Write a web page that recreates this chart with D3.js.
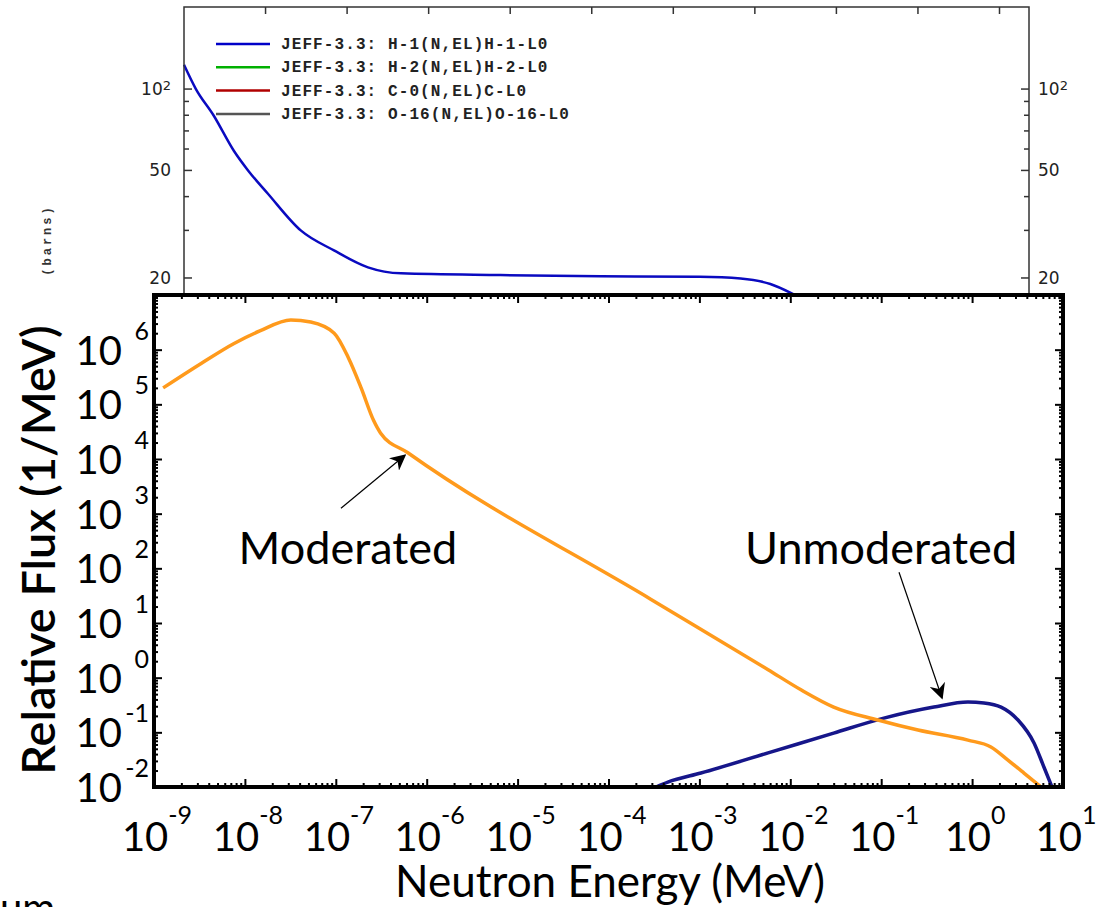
<!DOCTYPE html>
<html>
<head>
<meta charset="utf-8">
<script src="https://cdn.jsdelivr.net/npm/d3@7"></script>
<style>
body { margin: 0; background: #fff; }
svg { display: block; }
</style>
</head>
<body>
<svg id="chart" width="1096" height="907"></svg>
<script>
// ---- data: background cross-section plot (energy in eV, barns) ----
var xsEnergy = [1e-5, 1.4e-5, 2.3e-5, 4.1e-5, 6.1e-5, 1.07e-4, 2.7e-4, 6.9e-4, 1.8e-3, 4.6e-3, 0.076, 1.29, 21, 67, 155, 275, 400];
var xsH1 = [123, 100, 80, 59, 50, 41, 30, 25.3, 21.9, 20.8, 20.5, 20.3, 20.2, 19.9, 19.0, 17.6, 16.5];
var legendLabels = ["JEFF-3.3: H-1(N,EL)H-1-L0", "JEFF-3.3: H-2(N,EL)H-2-L0", "JEFF-3.3: C-0(N,EL)C-L0", "JEFF-3.3: O-16(N,EL)O-16-L0"];
var legendColors = ["#0000c8", "#00b000", "#b00000", "#555555"];
var xsTicks = [20, 50, 100];
var xsTickLabels = ["20", "50", "10"];
var xsTickExps = ["", "", "2"];
var xsMinorTicks = [30, 40, 60, 70, 80, 90];

// ---- data: flux spectra (energy in MeV, 1/MeV) ----
var modEnergy = [1.26e-9, 3.3e-9, 7.6e-9, 1.46e-8, 3.2e-8, 5.3e-8, 9.6e-8, 1.37e-7, 1.9e-7, 2.6e-7, 3.1e-7, 6.2e-7, 2.94e-4, 5.7e-3, 1.31e-2, 3.0e-2, 9.2e-2, 0.254, 0.90, 1.61, 2.48, 3.72, 5.73];
var modFlux = [2.0e5, 5.6e5, 1.3e6, 2.2e6, 3.5e6, 3.2e6, 2.0e6, 7.2e5, 2.0e5, 5.1e4, 3.0e4, 1.3e4, 27, 1.4, 0.6, 0.29, 0.168, 0.110, 0.072, 0.054, 0.031, 0.018, 0.010];
var unmodEnergy = [3.33e-4, 4.5e-4, 1.04e-3, 5.7e-3, 3.0e-2, 0.107, 0.38, 0.90, 1.35, 2.08, 3.2, 4.8, 6.18, 7.57];
var unmodFlux = [0.010, 0.0123, 0.018, 0.042, 0.097, 0.182, 0.29, 0.358, 0.344, 0.29, 0.168, 0.064, 0.023, 0.010];

var energyTicks = [1e-9, 1e-8, 1e-7, 1e-6, 1e-5, 1e-4, 1e-3, 1e-2, 1e-1, 1e0, 1e1];
var energyTickLabels = ["-9", "-8", "-7", "-6", "-5", "-4", "-3", "-2", "-1", "0", "1"];
var fluxTicks = [1e-2, 1e-1, 1e0, 1e1, 1e2, 1e3, 1e4, 1e5, 1e6];
var fluxTickLabels = ["-2", "-1", "0", "1", "2", "3", "4", "5", "6"];

// annotations: [tail energy, tail flux, tip energy, tip flux], label at [energy, flux]
var annotNames = ["Moderated", "Unmoderated"];
var annotArrows = [[1.14e-7, 1.26e3, 5.77e-7, 1.17e4], [0.157, 85, 0.467, 0.424]];
var annotLabels = [[1.36e-7, 234], [0.0996, 234]];

var svg = d3.select("#chart");
var W = +svg.attr("width"), H = +svg.attr("height");

// ================= background plot =================
var xsX = d3.scaleLog().domain([1e-5, 2.3e5]).range([184, 1029]);
var xsY = d3.scaleLog().domain([17.3, 200]).range([295, 7.7]);
var topG = svg.append("g");

topG.append("path")
  .datum(d3.zip(xsEnergy, xsH1))
  .attr("fill", "none")
  .attr("stroke", "#0a0ac0")
  .attr("stroke-width", 2.5)
  .attr("d", d3.line().x(function(d) { return xsX(d[0]); }).y(function(d) { return xsY(d[1]); }).curve(d3.curveMonotoneX));

// frame
topG.append("rect")
  .attr("x", 184).attr("y", 7)
  .attr("width", 1029 - 184).attr("height", 320)
  .attr("fill", "none").attr("stroke", "#333").attr("stroke-width", 1.5);

// top decade ticks
var xsDecades = d3.range(-4, 6).map(function(p) { return Math.pow(10, p); });
topG.append("g").selectAll("line").data(xsDecades).enter().append("line")
  .attr("x1", function(d) { return xsX(d); }).attr("x2", function(d) { return xsX(d); })
  .attr("y1", 7).attr("y2", 14)
  .attr("stroke", "#333").attr("stroke-width", 1.5);

// left and right ticks, inward
[184, 1029].forEach(function(ax) {
  var dir = ax < 500 ? 1 : -1;
  topG.append("g").selectAll("line").data(xsTicks).enter().append("line")
    .attr("x1", ax).attr("x2", ax + dir * 8)
    .attr("y1", function(d) { return xsY(d); }).attr("y2", function(d) { return xsY(d); })
    .attr("stroke", "#333").attr("stroke-width", 1.5);
  topG.append("g").selectAll("line").data(xsMinorTicks).enter().append("line")
    .attr("x1", ax).attr("x2", ax + dir * 5)
    .attr("y1", function(d) { return xsY(d); }).attr("y2", function(d) { return xsY(d); })
    .attr("stroke", "#333").attr("stroke-width", 1.5);
});

// tick labels, both sides
[[171, "end"], [1038, "start"]].forEach(function(p) {
  var t = topG.append("g").selectAll("text").data(xsTicks).enter().append("text")
    .attr("x", p[0])
    .attr("y", function(d) { return xsY(d) + 6; })
    .attr("text-anchor", p[1])
    .style("font-family", "DejaVu Sans")
    .style("font-size", "17px")
    .style("fill", "#222");
  t.append("tspan").text(function(d, i) { return xsTickLabels[i]; });
  t.append("tspan").attr("dy", -5).style("font-size", "13px")
    .text(function(d, i) { return xsTickExps[i]; });
});

topG.append("text")
  .attr("transform", "translate(51,240) rotate(-90)")
  .attr("text-anchor", "middle")
  .style("font-family", "Liberation Mono")
  .style("font-size", "12px")
  .style("font-weight", "bold")
  .style("letter-spacing", "3px")
  .style("fill", "#333")
  .text("(barns)");

// legend
var leg = topG.append("g").selectAll("g").data(legendLabels).enter().append("g")
  .attr("transform", function(d, i) { return "translate(216," + (44 + i * 23.3) + ")"; });
leg.append("line")
  .attr("x1", 0).attr("x2", 54).attr("y1", 0).attr("y2", 0)
  .attr("stroke", function(d, i) { return legendColors[i]; })
  .attr("stroke-width", 2.5);
leg.append("text")
  .attr("x", 65).attr("y", 5)
  .style("font-family", "Liberation Mono")
  .style("font-size", "16px")
  .style("font-weight", "bold")
  .style("letter-spacing", "1.1px")
  .style("fill", "#222")
  .text(function(d) { return d; });

// ================= flux plot =================
svg.append("rect").attr("x", 0).attr("y", 293).attr("width", W).attr("height", H - 293).attr("fill", "#fff");

var x = d3.scaleLog().domain([1e-9, 1e1]).range([154, 1063]);
var y = d3.scaleLog().domain([1e-2, 1e7]).range([787, 295]);
var font = "Lato, 'Open Sans', sans-serif";

var line = d3.line()
  .x(function(d) { return x(d[0]); })
  .y(function(d) { return y(d[1]); })
  .curve(d3.curveMonotoneX);

svg.append("path")
  .datum(d3.zip(unmodEnergy, unmodFlux))
  .attr("fill", "none").attr("stroke", "#16168a").attr("stroke-width", 3.5)
  .attr("d", line);
svg.append("path")
  .datum(d3.zip(modEnergy, modFlux))
  .attr("fill", "none").attr("stroke", "#ff9a1c").attr("stroke-width", 3.5)
  .attr("d", line);

// minor tick values
var xMinor = [], yMinor = [];
energyTicks.slice(0, -1).forEach(function(t) { for (var k = 2; k < 10; k++) xMinor.push(t * k); });
fluxTicks.forEach(function(t) { for (var k = 2; k < 10; k++) yMinor.push(t * k); });
var yMajor = fluxTicks.concat([1e7]);

function ticks(axisFn, scale, values, size, tr) {
  var g = svg.append("g").attr("transform", tr)
    .call(axisFn(scale).tickValues(values).tickSize(size).tickFormat(""));
  g.select(".domain").remove();
  g.selectAll(".tick line").attr("stroke", "#000").attr("stroke-width", 2);
}
ticks(d3.axisBottom, x, energyTicks, -8, "translate(0,787)");
ticks(d3.axisBottom, x, xMinor, -4, "translate(0,787)");
ticks(d3.axisTop, x, energyTicks, -8, "translate(0,295)");
ticks(d3.axisTop, x, xMinor, -4, "translate(0,295)");
ticks(d3.axisLeft, y, yMajor, -8, "translate(154,0)");
ticks(d3.axisLeft, y, yMinor, -4, "translate(154,0)");
ticks(d3.axisRight, y, yMajor, -8, "translate(1063,0)");
ticks(d3.axisRight, y, yMinor, -4, "translate(1063,0)");

svg.append("rect")
  .attr("x", 154).attr("y", 295)
  .attr("width", 1063 - 154).attr("height", 787 - 295)
  .attr("fill", "none").attr("stroke", "#000").attr("stroke-width", 4);

// x tick labels
var xl = svg.append("g").selectAll("text").data(energyTicks).enter().append("text")
  .attr("x", function(d) { return x(d) + 3; })
  .attr("y", 851)
  .attr("text-anchor", "middle")
  .style("font-family", font)
  .style("font-size", "40px")
  .style("fill", "#000");
xl.append("tspan").text("10");
xl.append("tspan").attr("dy", -27).style("font-size", "25px")
  .text(function(d, i) { return energyTickLabels[i]; });

// y tick labels
svg.append("g").selectAll("text").data(fluxTicks).enter().append("text")
  .attr("x", 122)
  .attr("y", function(d) { return y(d) + 15; })
  .attr("text-anchor", "end")
  .style("font-family", font).style("font-size", "40px").style("fill", "#000")
  .text("10");
svg.append("g").selectAll("text").data(fluxTicks).enter().append("text")
  .attr("x", 149)
  .attr("y", function(d) { return y(d) - 10; })
  .attr("text-anchor", "end")
  .style("font-family", font).style("font-size", "25px").style("fill", "#000")
  .text(function(d, i) { return fluxTickLabels[i]; });

// axis titles
svg.append("text")
  .attr("transform", "translate(55,550) rotate(-90)")
  .attr("text-anchor", "middle")
  .style("font-family", font).style("font-size", "47px").style("font-weight", "600")
  .text("Relative Flux (1/MeV)");
svg.append("text")
  .attr("x", 610).attr("y", 897)
  .attr("text-anchor", "middle")
  .style("font-family", font).style("font-size", "44px")
  .text("Neutron Energy (MeV)");
svg.append("text")
  .attr("x", 0).attr("y", 922)
  .style("font-family", font).style("font-size", "40px")
  .text("um");

// annotations
svg.append("defs").append("marker")
  .attr("id", "arrow").attr("viewBox", "0 0 10 10")
  .attr("refX", 9).attr("refY", 5)
  .attr("markerWidth", 16).attr("markerHeight", 16)
  .attr("markerUnits", "userSpaceOnUse")
  .attr("orient", "auto")
  .append("path").attr("d", "M0,0 L10,5 L0,10 L3,5 Z").attr("fill", "#000");

svg.append("g").selectAll("line").data(annotArrows).enter().append("line")
  .attr("x1", function(d) { return x(d[0]); }).attr("y1", function(d) { return y(d[1]); })
  .attr("x2", function(d) { return x(d[2]); }).attr("y2", function(d) { return y(d[3]); })
  .attr("stroke", "#000").attr("stroke-width", 1.2)
  .attr("marker-end", "url(#arrow)");

svg.append("g").selectAll("text").data(annotLabels).enter().append("text")
  .attr("x", function(d) { return x(d[0]); })
  .attr("y", function(d) { return y(d[1]) + 16; })
  .attr("text-anchor", "middle")
  .style("font-family", font).style("font-size", "45px")
  .text(function(d, i) { return annotNames[i]; });
</script>
</body>
</html>
